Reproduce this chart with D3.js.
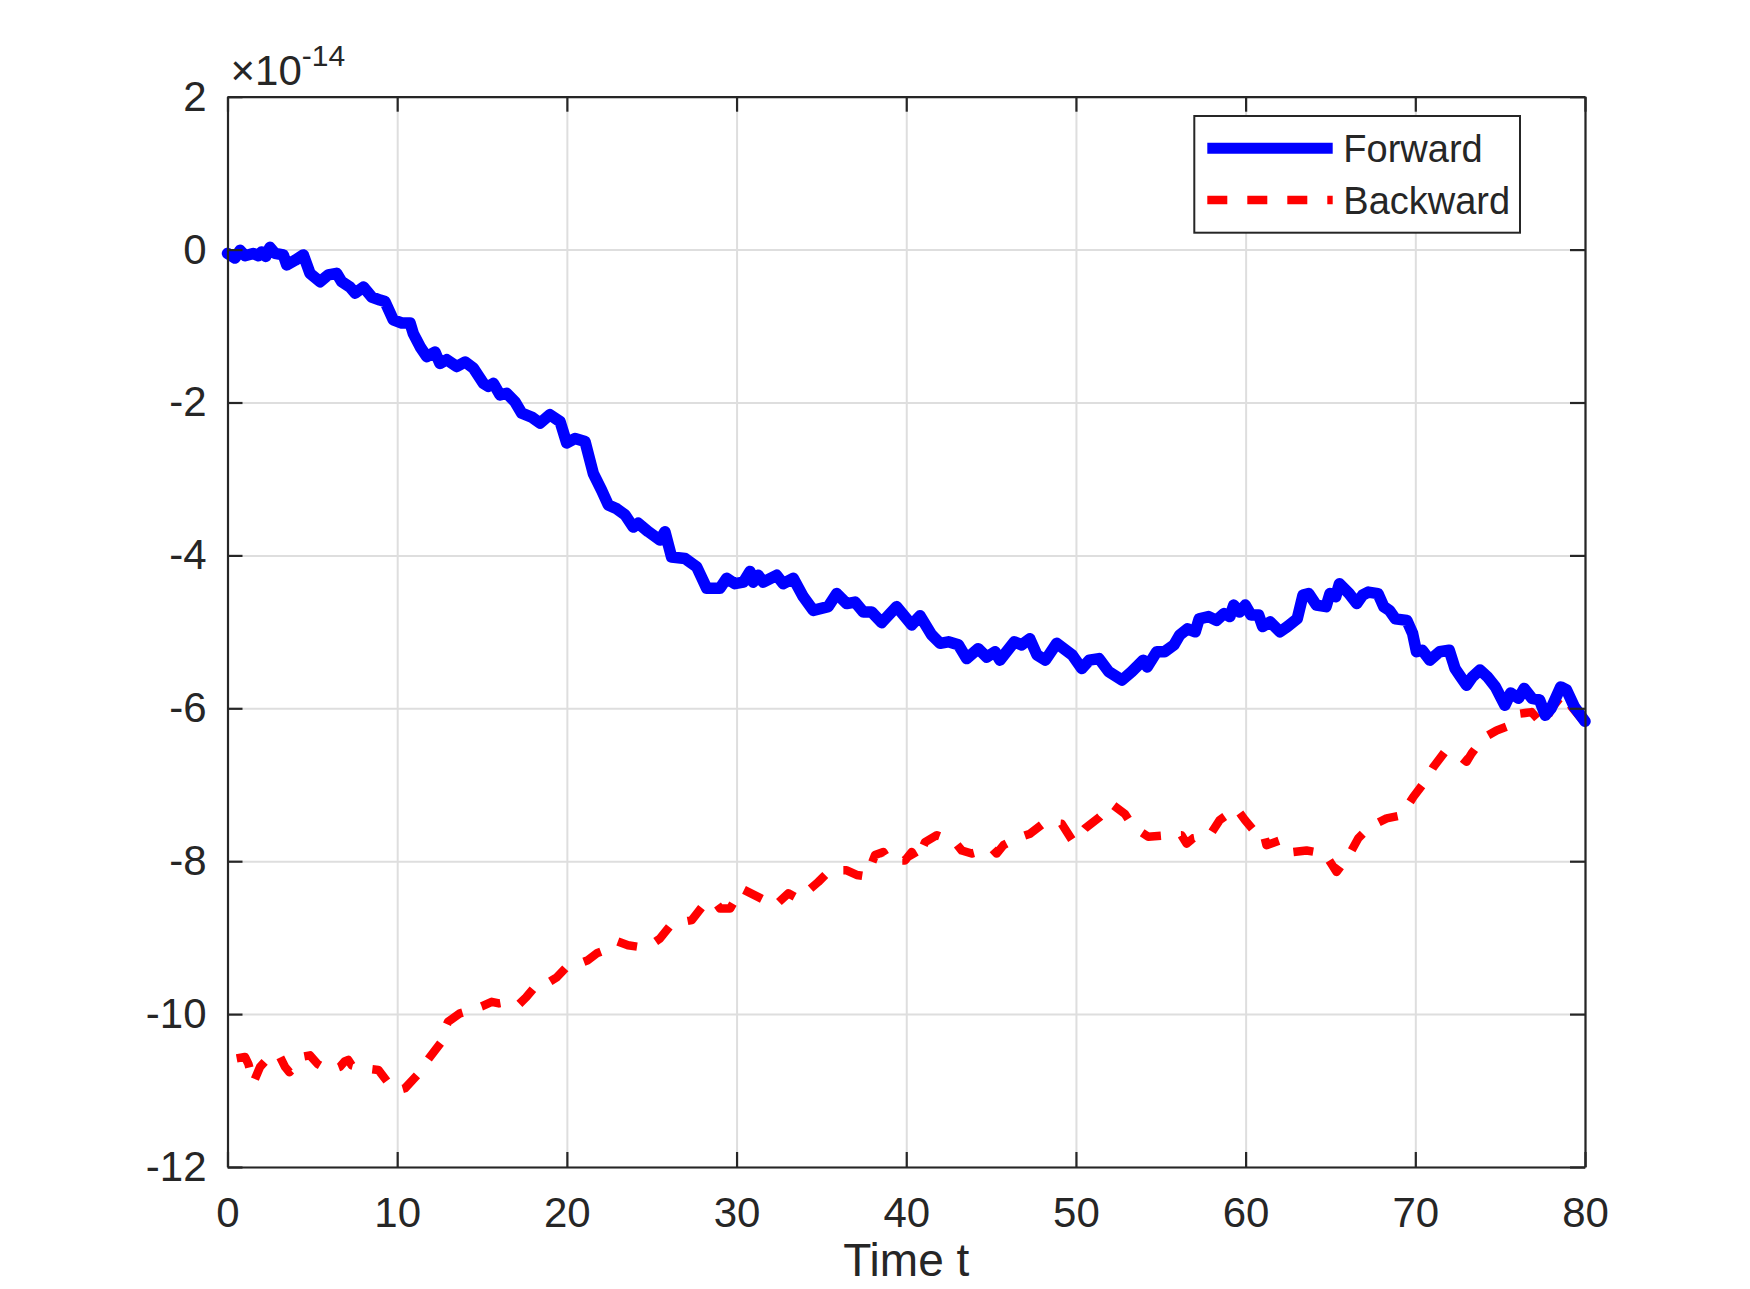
<!DOCTYPE html>
<html>
<head>
<meta charset="utf-8">
<script src="https://cdn.jsdelivr.net/npm/d3@7"></script>
<style>
  body { margin: 0; background: white; }
  text { font-family: "Liberation Sans", Arial, Helvetica, sans-serif; fill: #262626; }
</style>
</head>
<body>
<div class="chart"></div>
<script>
// values are in units of 1e-14
let fwdT = [0,0.44,0.74,1.03,1.52,1.82,2.01,2.25,2.5,2.8,3.29,3.49,3.98,4.47,4.86,5.45,5.94,6.43,6.73,7.22,7.52,8.01,8.5,8.99,9.28,9.77,10.27,10.76,10.95,11.35,11.74,12.23,12.52,12.92,13.51,14,14.49,15.08,15.37,15.67,16.06,16.45,16.94,17.34,17.92,18.42,19,19.6,19.99,20.48,21.07,21.56,22.05,22.44,22.94,23.43,23.91,24.2,24.8,25.49,25.78,26.17,26.96,27.65,28.24,29.02,29.42,29.9,30.4,30.79,30.98,31.28,31.57,32.36,32.75,33.34,33.93,34.52,35.4,35.9,36.49,36.98,37.47,37.96,38.55,39.43,40.32,40.81,41.5,41.99,42.48,43.07,43.56,44.24,44.74,45.23,45.52,46.37,46.8,47.28,47.7,48.2,48.87,49.77,50.34,50.79,51.36,51.93,52.72,53.29,53.97,54.2,54.76,55.22,55.78,56.12,56.58,57.03,57.26,57.82,58.28,58.73,59.07,59.3,59.64,59.98,60.32,60.77,61,61.45,62.02,62.47,63.04,63.38,63.72,64.17,64.74,64.97,65.31,65.53,66.1,66.55,66.89,67.23,67.8,68.14,68.48,68.82,69.5,69.84,70.07,70.41,70.86,71.43,72,72.34,72.68,73.02,73.36,73.81,74.26,74.72,75.28,75.62,76.08,76.42,76.87,77.32,77.66,78,78.57,78.91,79.37,80]
let fwdV = [-0.05,-0.11,-0.01,-0.08,-0.05,-0.08,-0.03,-0.09,0.03,-0.05,-0.07,-0.2,-0.14,-0.07,-0.31,-0.42,-0.33,-0.31,-0.42,-0.49,-0.57,-0.49,-0.62,-0.66,-0.68,-0.92,-0.96,-0.96,-1.1,-1.27,-1.4,-1.34,-1.49,-1.44,-1.53,-1.47,-1.55,-1.75,-1.79,-1.75,-1.9,-1.88,-1.99,-2.14,-2.19,-2.27,-2.16,-2.25,-2.53,-2.47,-2.51,-2.93,-3.15,-3.34,-3.39,-3.47,-3.63,-3.58,-3.69,-3.8,-3.69,-4.02,-4.04,-4.15,-4.43,-4.43,-4.3,-4.37,-4.35,-4.21,-4.35,-4.26,-4.35,-4.26,-4.37,-4.3,-4.54,-4.72,-4.67,-4.5,-4.63,-4.61,-4.74,-4.74,-4.88,-4.67,-4.91,-4.79,-5.04,-5.15,-5.13,-5.17,-5.35,-5.22,-5.33,-5.26,-5.37,-5.13,-5.17,-5.09,-5.3,-5.37,-5.15,-5.3,-5.48,-5.37,-5.35,-5.52,-5.63,-5.52,-5.37,-5.46,-5.26,-5.26,-5.17,-5.04,-4.96,-5,-4.83,-4.8,-4.85,-4.76,-4.8,-4.65,-4.74,-4.65,-4.78,-4.78,-4.93,-4.87,-5,-4.93,-4.83,-4.52,-4.5,-4.65,-4.67,-4.5,-4.54,-4.37,-4.5,-4.63,-4.52,-4.48,-4.5,-4.67,-4.72,-4.83,-4.85,-5.02,-5.26,-5.24,-5.37,-5.26,-5.24,-5.48,-5.59,-5.7,-5.59,-5.5,-5.59,-5.72,-5.96,-5.8,-5.87,-5.74,-5.87,-5.89,-6.09,-6,-5.72,-5.76,-5.98,-6.17]

let bwdT = [0.54,1.03,1.23,1.52,1.92,2.5,2.9,3.1,3.39,3.65,3.98,4.37,4.86,5.3,5.75,6.14,6.63,6.9,7.12,7.32,8,8.5,8.89,9.58,10,10.46,11.25,11.6,11.93,12.62,12.8,13,13.7,14.3,14.98,15.57,16,16.55,17.14,17.6,18.2,18.8,19.4,20,20.6,21.2,21.8,22.4,23,23.6,24.2,24.9,25.49,26.18,27.36,28.14,28.73,29.03,29.62,30.3,31.29,32.27,33.05,33.64,33.94,34.82,35.51,36.49,37.08,37.67,38.16,38.65,38.95,39.93,40.32,40.62,41.11,41.8,42.88,43.27,43.86,45.04,45.33,45.73,46.51,47.3,48.18,49.16,49.85,50.54,51.41,52.1,52.88,53.37,54.26,55.34,56.22,56.52,56.91,57.89,58.48,59.46,59.96,60.64,61.04,61.23,62.12,62.8,63.59,64.67,65.36,66.05,66.64,67.32,68.31,69.19,69.88,70.56,71.06,71.74,72.63,73.02,73.32,74,74.79,75.38,75.87,76.16,76.85,77.54,78.03,78.72,79.21,79.7,80]
let bwdV = [-10.58,-10.56,-10.65,-10.9,-10.69,-10.55,-10.52,-10.56,-10.69,-10.76,-10.69,-10.56,-10.54,-10.65,-10.71,-10.73,-10.69,-10.62,-10.6,-10.67,-10.71,-10.72,-10.73,-10.93,-11,-10.97,-10.78,-10.66,-10.56,-10.36,-10.2,-10.1,-9.99,-9.95,-9.9,-9.84,-9.86,-9.84,-9.88,-9.78,-9.62,-9.6,-9.52,-9.38,-9.35,-9.3,-9.2,-9.15,-9.05,-9.1,-9.12,-9.1,-9.01,-8.82,-8.77,-8.55,-8.53,-8.62,-8.62,-8.36,-8.47,-8.58,-8.42,-8.49,-8.44,-8.27,-8.12,-8.12,-8.18,-8.2,-7.92,-7.88,-7.99,-7.99,-7.88,-7.99,-7.75,-7.66,-7.75,-7.86,-7.9,-7.83,-7.9,-7.79,-7.7,-7.64,-7.49,-7.51,-7.75,-7.57,-7.42,-7.25,-7.38,-7.55,-7.68,-7.66,-7.66,-7.77,-7.7,-7.66,-7.46,-7.31,-7.46,-7.64,-7.62,-7.79,-7.72,-7.88,-7.86,-7.9,-8.14,-7.94,-7.7,-7.55,-7.44,-7.4,-7.16,-6.96,-6.77,-6.57,-6.63,-6.7,-6.59,-6.39,-6.29,-6.24,-6.18,-6.07,-6.05,-6.22,-6,-5.81,-5.98,-6.11,-6.18]

let xTicks = [0,10,20,30,40,50,60,70,80]
let yTicks = [2,0,-2,-4,-6,-8,-10,-12]
let seriesNames = ['Forward','Backward']

let W = 1750, H = 1289
let margin = { top: 96.7, right: 165, bottom: 122, left: 227.5 },
width = W - margin.left - margin.right,
height = H - margin.top - margin.bottom;

let axisColor = '#262626'

let svg = d3.select(".chart")
.append("svg")
.attr("width", W)
.attr("height", H)
.append("g")
.attr("transform", "translate(" + margin.left + "," + margin.top + ")");

const x = d3.scaleLinear().domain([0, 80]).range([0, width]);
const y = d3.scaleLinear().domain([-12, 2]).range([height, 0]);

// grid
svg.append("g")
.attr("class", "grid")
.attr("transform", "translate(0," + height + ")")
.call(d3.axisBottom(x).tickValues(xTicks).tickSize(-height).tickFormat(""))
svg.append("g")
.attr("class", "grid")
.call(d3.axisLeft(y).tickValues(yTicks).tickSize(-width).tickFormat(""))
svg.selectAll(".grid .domain").remove()
svg.selectAll(".grid line").attr("stroke", "#dedede").attr("stroke-width", 2)

// data lines
const fwd = fwdT.map((t, i) => ({ t: t, v: fwdV[i] }))
const bwd = bwdT.map((t, i) => ({ t: t, v: bwdV[i] }))
const line = d3.line().x(d => x(d.t)).y(d => y(d.v))

svg.append("path")
.datum(bwd)
.attr("d", line)
.attr("fill", "none")
.attr("stroke", "#ff0000")
.attr("stroke-width", 8.5)
.attr("stroke-dasharray", "20,20")
.attr("stroke-linejoin", "round")

svg.append("path")
.datum(fwd)
.attr("d", line)
.attr("fill", "none")
.attr("stroke", "#0000ff")
.attr("stroke-width", 11.5)
.attr("stroke-linejoin", "round")
.attr("stroke-linecap", "round")

// axes, ticks pointing inward on all four sides
let tickLen = 15
let xAxis = svg.append("g")
.attr("transform", "translate(0," + height + ")")
.call(d3.axisBottom(x).tickValues(xTicks).tickSizeInner(-tickLen).tickSizeOuter(0).tickPadding(30))
let yAxis = svg.append("g")
.call(d3.axisLeft(y).tickValues(yTicks).tickSizeInner(-tickLen).tickSizeOuter(0).tickPadding(21).tickFormat(d3.format("d")))
let xTop = svg.append("g")
.call(d3.axisTop(x).tickValues(xTicks).tickSizeInner(-tickLen).tickSizeOuter(0).tickFormat(""))
let yRight = svg.append("g")
.attr("transform", "translate(" + width + ",0)")
.call(d3.axisRight(y).tickValues(yTicks).tickSizeInner(-tickLen).tickSizeOuter(0).tickFormat(""))

svg.selectAll(".domain").attr("stroke", axisColor).attr("stroke-width", 2.2)
svg.selectAll(".tick line").filter(function() { return !this.parentNode.parentNode.classList.contains("grid") })
.attr("stroke", axisColor).attr("stroke-width", 2.2)
svg.selectAll(".tick text").attr("font-size", 42).attr("fill", axisColor)
  .style("font-family", '"Liberation Sans", Arial, sans-serif')
yAxis.selectAll(".tick text").text(d => d < 0 ? "-" + Math.abs(d) : d)

// exponent label
let expo = svg.append("text")
.attr("x", 3)
.attr("y", 85 - margin.top)
.attr("font-size", 42)
expo.append("tspan").text("\u00d710")
expo.append("tspan").attr("font-size", 30).attr("dy", -19).text("-14")

// x label
svg.append("text")
.attr("x", width / 2)
.attr("y", 1276 - margin.top)
.attr("text-anchor", "middle")
.attr("font-size", 46)
.text("Time t")

// legend
let lg = svg.append("g").attr("transform", "translate(" + (1194.3 - margin.left) + "," + (116 - margin.top) + ")")
lg.append("rect")
.attr("width", 325.7)
.attr("height", 116.7)
.attr("fill", "white")
.attr("stroke", axisColor)
.attr("stroke-width", 2)

let legendStyles = [
  { color: "#0000ff", w: 11, dash: null },
  { color: "#ff0000", w: 8.5, dash: "20,20" }
]
seriesNames.forEach((name, i) => {
  let yy = 32.3 + i * 51.7
  lg.append("line")
  .attr("x1", 13).attr("x2", 138.4)
  .attr("y1", yy).attr("y2", yy)
  .attr("stroke", legendStyles[i].color)
  .attr("stroke-width", legendStyles[i].w)
  .attr("stroke-dasharray", legendStyles[i].dash)
  lg.append("text")
  .attr("x", 149)
  .attr("y", yy + 14)
  .attr("font-size", 38)
  .attr("fill", "#000")
  .text(name)
})
</script>
</body>
</html>
